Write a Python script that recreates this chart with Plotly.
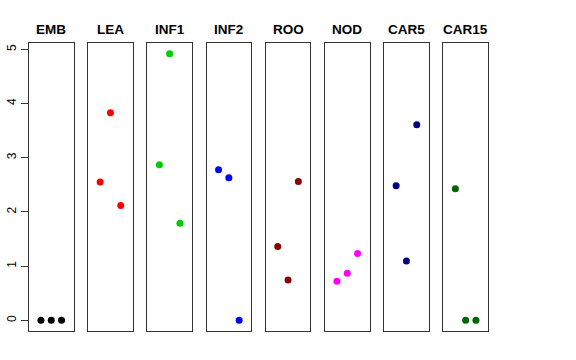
import plotly.graph_objects as go

tissues = ["EMB", "LEA", "INF1", "INF2", "ROO", "NOD", "CAR5", "CAR15"]
colors = ["#000000", "#FF0000", "#00CD00", "#0000FF", "#8B0000", "#FF00FF", "#000080", "#006400"]
reps = [1, 2, 3]
values = [
    [0.0, 0.0, 0.0],
    [2.55, 3.83, 2.12],
    [2.87, 4.92, 1.79],
    [2.78, 2.63, 0.0],
    [1.36, 0.745, 2.56],
    [0.72, 0.87, 1.235],
    [2.485, 1.094, 3.61],
    [2.43, 0.0, 0.0],
]
y_ticks = [0, 1, 2, 3, 4, 5]

W, H = 576, 360
fig = go.Figure()
ymax = max(max(v) for v in values)
yr = [0 - 0.04 * ymax, ymax + 0.04 * ymax]
left0, pw, step = 29.0, 44.5, 59.2
ytop, ybot = 43.0, 331.0

layout = dict(width=W, height=H, margin=dict(l=0, r=0, t=0, b=0, autoexpand=False),
              paper_bgcolor="white", plot_bgcolor="white", showlegend=False,
              font=dict(family="Liberation Sans, Arial, sans-serif", color="black"))
annotations = []
for i, (name, col, vals) in enumerate(zip(tissues, colors, values)):
    k = "" if i == 0 else str(i + 1)
    fig.add_trace(go.Scatter(x=reps, y=vals, mode="markers",
                             marker=dict(color=col, size=7, line=dict(width=0)),
                             xaxis="x" + k, yaxis="y" + k))
    x0 = left0 + i * step
    layout["xaxis" + k] = dict(domain=[x0 / W, (x0 + pw) / W], range=[-0.16, 4.16],
                               showticklabels=False, ticks="", showgrid=False, zeroline=False,
                               showline=True, linecolor="#333333", linewidth=1, mirror=True,
                               anchor="y" + k, fixedrange=True, automargin=False)
    ya = dict(domain=[1 - ybot / H, 1 - ytop / H], range=yr, showgrid=False, zeroline=False,
              showline=True, linecolor="#333333", linewidth=1, mirror=True,
              anchor="x" + k, fixedrange=True, automargin=False)
    if i == 0:
        ya.update(tickmode="array", tickvals=y_ticks, ticktext=[str(t) for t in y_ticks],
                  ticks="outside", ticklen=7, tickcolor="#333333", tickangle=-90,
                  tickfont=dict(size=12, color="black"))
    else:
        ya.update(showticklabels=False, ticks="")
    layout["yaxis" + k] = ya
    annotations.append(dict(text="<b>" + name + "</b>", x=(x0 + pw / 2) / W, y=1 - 29 / H,
                            xref="paper", yref="paper", showarrow=False,
                            xanchor="center", yanchor="middle",
                            font=dict(size=13.5, color="black")))
layout["annotations"] = annotations
fig.update_layout(**layout)
fig.write_html("out.html", config={"displayModeBar": False},
               post_script="document.body.style.margin='0';")
